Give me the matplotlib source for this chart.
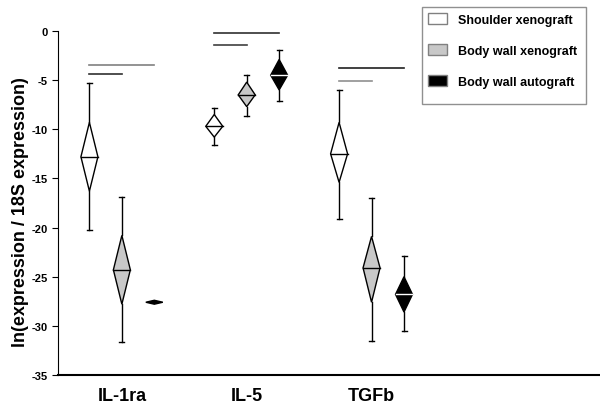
import matplotlib.pyplot as plt
from matplotlib.patches import Patch, Rectangle

plt.rcParams["font.family"] = ["Liberation Sans", "DejaVu Sans"]
plt.rcParams["font.weight"] = "bold"
plt.rcParams["axes.unicode_minus"] = False

categories = ["IL-1ra", "IL-5", "TGFb"]
groups = ["Shoulder xenograft", "Body wall xenograft", "Body wall autograft"]
fills = ["white", "#c8c8c8", "black"]
mean_colors = ["black", "black", "white"]

# per group: one value for each category
means = {
    "Shoulder xenograft": [-12.8, -9.7, -12.5],
    "Body wall xenograft": [-24.3, -6.5, -24.1],
    "Body wall autograft": [-27.6, -4.5, -26.8],
}
diamond_top = {
    "Shoulder xenograft": [-9.3, -8.5, -9.3],
    "Body wall xenograft": [-20.8, -5.2, -20.9],
    "Body wall autograft": [-27.4, -2.9, -25.0],
}
diamond_bottom = {
    "Shoulder xenograft": [-16.3, -10.8, -15.4],
    "Body wall xenograft": [-27.8, -7.7, -27.6],
    "Body wall autograft": [-27.8, -6.0, -28.6],
}
whisker_high = {
    "Shoulder xenograft": [-5.3, -7.8, -6.0],
    "Body wall xenograft": [-16.9, -4.5, -17.0],
    "Body wall autograft": [-27.6, -1.9, -22.9],
}
whisker_low = {
    "Shoulder xenograft": [-20.3, -11.6, -19.1],
    "Body wall xenograft": [-31.6, -8.6, -31.5],
    "Body wall autograft": [-27.6, -7.1, -30.5],
}

# significance bars: (category, first group, last group, y, colour)
sig_bars = [
    (0, 0, 2, -3.45, "#808080"),
    (0, 0, 1, -4.4, "#303030"),
    (1, 0, 2, -0.2, "#303030"),
    (1, 0, 1, -1.4, "#404040"),
    (2, 0, 2, -3.8, "#202020"),
    (2, 0, 1, -5.1, "#909090"),
]

offsets = [-0.26, 0.0, 0.26]
half_w = 0.068
cap_w = 0.02

fig = plt.figure(figsize=(6, 4.1), dpi=100)
ax = fig.add_axes([0.097, 0.083, 0.903, 0.839])

for gi, g in enumerate(groups):
    for ci in range(len(categories)):
        x = ci + 1 + offsets[gi]
        m = means[g][ci]
        top = diamond_top[g][ci]
        bot = diamond_bottom[g][ci]
        hi = whisker_high[g][ci]
        lo = whisker_low[g][ci]
        if hi > top:
            ax.plot([x, x], [top, hi], color="black", lw=1)
            ax.plot([x - cap_w, x + cap_w], [hi, hi], color="black", lw=1)
        if lo < bot:
            ax.plot([x, x], [bot, lo], color="black", lw=1)
            ax.plot([x - cap_w, x + cap_w], [lo, lo], color="black", lw=1)
        ax.fill([x - half_w, x, x + half_w, x], [m, top, m, bot],
                facecolor=fills[gi], edgecolor="black", lw=1, zorder=3)
        if top - bot > 0.5:
            ax.plot([x - half_w, x + half_w], [m, m], color=mean_colors[gi],
                    lw=1, zorder=4)

for ci, g0, g1, y, col in sig_bars:
    ax.plot([ci + 1 + offsets[g0], ci + 1 + offsets[g1]], [y, y],
            color=col, lw=1.2)

ax.set_xlim(0.49, 4.83)
ax.set_ylim(-35, 0)
ax.set_yticks(range(-35, 1, 5))
ax.set_xticks([1, 2, 3])
ax.set_xticklabels(categories, fontsize=13, fontweight="bold")
ax.tick_params(axis="x", length=0, pad=9)
ax.tick_params(axis="y", labelsize=8, length=4, direction="out")
ax.set_ylabel("ln(expression / 18S expression)", fontsize=13, fontweight="bold")
ax.yaxis.set_label_coords(-0.053, 0.477)
ax.spines["top"].set_visible(False)
ax.spines["right"].set_visible(False)
ax.spines["bottom"].set_linewidth(1.5)

handles = [Patch(facecolor=fills[i], edgecolor="#808080", lw=1) for i in range(3)]
fig.add_artist(Rectangle((0.703, 0.744), 0.274, 0.236, transform=fig.transFigure,
                         facecolor="white", edgecolor="#909090", lw=1))
fig.legend(handles, groups, loc="upper left", bbox_to_anchor=(0.713, 0.966),
           frameon=False, fontsize=9, labelspacing=1.44, handlelength=1.5,
           handleheight=1.0, handletextpad=0.9, borderpad=0, borderaxespad=0)

fig.savefig("out.png", dpi=100)
